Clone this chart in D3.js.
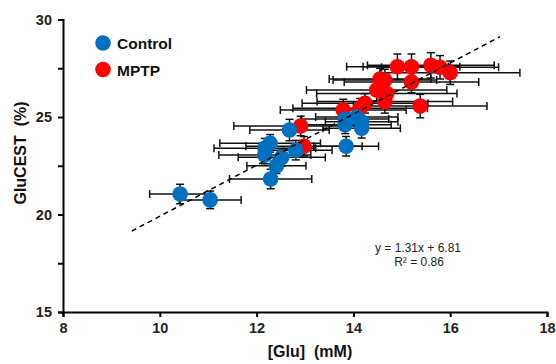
<!DOCTYPE html>
<html>
<head>
<meta charset="utf-8">
<script src="https://cdn.jsdelivr.net/npm/d3@7"></script>
<style>
  body { margin: 0; background: #fff; }
  svg { display: block; font-family: "Liberation Sans", Arial, sans-serif; }
</style>
</head>
<body>
<div id="chart"></div>
<script>
const width = 556;
const height = 364;

// Control group
const controlGlu     = [10.42, 11.04, 12.29, 12.41, 12.52, 12.17, 12.17, 12.28, 12.81, 12.68, 13.85, 13.83, 14.07, 14.17, 14.17, 13.83];
const controlCest    = [21.05, 20.75, 21.82, 22.5, 22.93, 23.05, 23.4, 23.65, 23.3, 24.33, 23.5, 24.9, 25.0, 24.76, 24.42, 24.6];
const controlGluErr  = [0.63, 0.64, 0.85, 0.61, 0.9, 0.95, 1.05, 1.04, 0.75, 0.82, 0.67, 0.9, 0.85, 0.75, 0.8, 0.95];
const controlCestErr = [0.5, 0.45, 0.5, 0.4, 0.45, 0.45, 0.5, 0.45, 0.5, 0.55, 0.5, 0.5, 0.45, 0.5, 0.5, 0.45];

// MPTP group
const mptpGlu     = [12.91, 12.98, 13.79, 14.14, 14.24, 14.65, 14.69, 14.48, 14.55, 14.65, 15.2, 15.38, 14.91, 15.2, 15.6, 15.79, 16.0];
const mptpCest    = [24.54, 23.5, 25.36, 25.45, 25.7, 25.8, 26.2, 26.38, 26.95, 26.9, 26.8, 25.56, 27.58, 27.58, 27.65, 27.55, 27.27];
const mptpGluErr  = [1.38, 1.2, 1.3, 1.39, 1.3, 1.4, 1.45, 1.45, 1.05, 1.07, 1.39, 1.38, 1.05, 1.0, 1.31, 1.21, 1.44];
const mptpCestErr = [0.5, 0.5, 0.55, 0.5, 0.5, 0.6, 0.55, 0.55, 0.55, 0.55, 0.55, 0.6, 0.65, 0.65, 0.65, 0.6, 0.6];

// Linear fit
const fitSlope = 1.31;
const fitIntercept = 6.81;
const fitRange = [9.42, 17.03];

const xTicks = [8, 10, 12, 14, 16, 18];
const yTicks = [15, 20, 25, 30];
const yMinorTicks = [17.5, 22.5, 27.5];

const groups = [
  { name: "Control", color: "#0070C0", glu: controlGlu, cest: controlCest, gluErr: controlGluErr, cestErr: controlCestErr },
  { name: "MPTP", color: "#FF0000", glu: mptpGlu, cest: mptpCest, gluErr: mptpGluErr, cestErr: mptpCestErr }
];

const x = d3.scaleLinear().domain([8, 18]).range([63, 547]);
const y = d3.scaleLinear().domain([15, 30]).range([312, 19.5]);

const svg = d3.select("#chart")
  .append("svg")
  .attr("width", width)
  .attr("height", height);

// axes
svg.append("g")
  .attr("transform", `translate(${x(8)},0)`)
  .call(d3.axisLeft(y).tickValues(yTicks).tickSize(5).tickPadding(6).tickFormat(d3.format("d")));

svg.append("g")
  .attr("transform", `translate(${x(8)},0)`)
  .call(d3.axisLeft(y).tickValues(yMinorTicks).tickSize(5).tickFormat(""))
  .select(".domain").remove();

svg.append("g")
  .attr("transform", `translate(0,${y(15)})`)
  .call(d3.axisBottom(x).tickValues(xTicks).tickSize(5).tickPadding(6).tickFormat(d3.format("d")));

svg.selectAll(".domain").attr("stroke", "#000").attr("stroke-width", 2);
svg.selectAll(".tick line").attr("stroke", "#000").attr("stroke-width", 2);
svg.selectAll(".tick text")
  .attr("font-family", "Liberation Sans, Arial, sans-serif")
  .attr("font-size", 14.5)
  .attr("font-weight", "bold")
  .attr("fill", "#222");

// error bars (behind markers)
const cap = 4;
const errLayer = svg.append("g").attr("stroke", "#111").attr("stroke-width", 1.5).attr("fill", "none");

groups.forEach(g => {
  g.glu.forEach((v, i) => {
    const cx = x(v), cy = y(g.cest[i]);
    const x0 = x(v - g.gluErr[i]), x1 = x(v + g.gluErr[i]);
    const y0 = y(g.cest[i] - g.cestErr[i]), y1 = y(g.cest[i] + g.cestErr[i]);
    errLayer.append("line").attr("x1", x0).attr("x2", x1).attr("y1", cy).attr("y2", cy);
    errLayer.append("line").attr("x1", x0).attr("x2", x0).attr("y1", cy - cap).attr("y2", cy + cap);
    errLayer.append("line").attr("x1", x1).attr("x2", x1).attr("y1", cy - cap).attr("y2", cy + cap);
    errLayer.append("line").attr("x1", cx).attr("x2", cx).attr("y1", y0).attr("y2", y1);
    errLayer.append("line").attr("x1", cx - cap).attr("x2", cx + cap).attr("y1", y0).attr("y2", y0);
    errLayer.append("line").attr("x1", cx - cap).attr("x2", cx + cap).attr("y1", y1).attr("y2", y1);
  });
});

// markers: MPTP first, Control on top
[groups[1], groups[0]].forEach(g => {
  svg.append("g")
    .selectAll("circle")
    .data(g.glu.map((v, i) => [v, g.cest[i]]))
    .enter()
    .append("circle")
    .attr("cx", d => x(d[0]))
    .attr("cy", d => y(d[1]))
    .attr("r", 7.8)
    .attr("fill", g.color);
});

// regression line
svg.append("line")
  .attr("x1", x(fitRange[0]))
  .attr("y1", y(fitSlope * fitRange[0] + fitIntercept))
  .attr("x2", x(fitRange[1]))
  .attr("y2", y(fitSlope * fitRange[1] + fitIntercept))
  .attr("stroke", "#000")
  .attr("stroke-width", 1.5)
  .attr("stroke-dasharray", "5,4");

// equation
const eq = svg.append("g")
  .attr("font-size", 12)
  .attr("fill", "#222")
  .attr("text-anchor", "middle");
eq.append("text").attr("x", 418).attr("y", 252).text(`y = ${fitSlope}x + ${fitIntercept}`);
eq.append("text").attr("x", 419).attr("y", 266).text("R² = 0.86");

// legend
const legend = svg.append("g")
  .selectAll("g")
  .data(groups)
  .enter()
  .append("g")
  .attr("transform", (d, i) => `translate(103,${43 + i * 26.5})`);

legend.append("circle").attr("r", 7.8).attr("fill", d => d.color);
legend.append("text")
  .attr("x", 14)
  .attr("y", 6)
  .attr("font-size", 15.5)
  .attr("font-weight", "bold")
  .attr("fill", "#111")
  .text(d => d.name);

// axis titles
svg.append("text")
  .attr("x", 310)
  .attr("y", 357)
  .attr("text-anchor", "middle")
  .attr("font-size", 16)
  .attr("font-weight", "bold")
  .attr("fill", "#111")
  .style("white-space", "pre")
  .text("[Glu]  (mM)");

svg.append("text")
  .attr("transform", "translate(26,153) rotate(-90)")
  .attr("text-anchor", "middle")
  .attr("font-size", 16)
  .attr("font-weight", "bold")
  .attr("fill", "#111")
  .style("white-space", "pre")
  .text("GluCEST  (%)");
</script>
</body>
</html>
